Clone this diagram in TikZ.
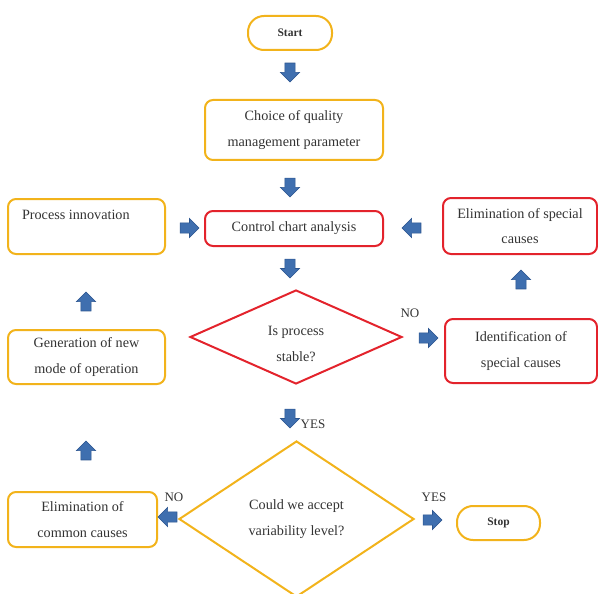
\documentclass[tikz,border=0pt]{standalone}
\usepackage{fontspec}
\setmainfont{Liberation Serif}
\usetikzlibrary{shapes.geometric,shapes.arrows}
\definecolor{yel}{HTML}{F2B31B}
\definecolor{rd}{HTML}{E3232C}
\definecolor{blu}{HTML}{3F6FAF}
\definecolor{bludark}{HTML}{2C558F}
\definecolor{txt}{HTML}{333333}
\tikzset{
  base/.style={line width=2pt, inner sep=0pt, align=center, text=txt,
    font=\fontsize{14.2}{25.5}\selectfont},
  ybox/.style={base, draw=yel, rounded corners=8pt},
  rbox/.style={base, draw=rd, rounded corners=8pt},
  pill/.style={base, draw=yel, rounded corners=16pt, font=\fontsize{11.5}{12}\selectfont\bfseries},
  ydia/.style={base, draw=yel, diamond, aspect=1},
  rdia/.style={base, draw=rd, diamond, aspect=1},
  barrow/.style={single arrow, fill=blu, draw=bludark, line width=0.6pt,
    inner sep=4.8pt, minimum height=19pt, single arrow head extend=4.5pt,
    single arrow head indent=0pt},
  lab/.style={text=txt, font=\fontsize{13}{14}\selectfont, inner sep=0pt}
}
\begin{document}
\begin{tikzpicture}[x=1pt,y=-1pt]
\useasboundingbox (0,0) rectangle (598,594);
\node[pill, minimum width=84pt, minimum height=34pt] (start) at (290,33) {Start};
\node[ybox, minimum width=178pt, minimum height=60pt] (choice) at (294,130) {\raisebox{-2pt}{Choice of quality}\\\raisebox{-2pt}{management parameter}};
\node[rbox, minimum width=178pt, minimum height=35pt] (ctrl) at (294,228.5) {Control chart analysis};
\node[ybox, minimum width=157pt, minimum height=55pt] (pinn) at (86.5,226.5) {};
\node[base, anchor=north west] (pinntxt) at ([shift={(14,11)}]pinn.north west) {Process innovation};
\node[rbox, minimum width=154pt, minimum height=56pt] (esc) at (520,226) {Elimination of special\\causes};
\node[rdia, minimum width=212pt, minimum height=94pt] (d1) at (296,337) {};
\node[base] (d1txt) at (296,344) {Is process\\stable?};
\node[rbox, minimum width=152pt, minimum height=64pt] (isc) at (521,351) {Identification of\\special causes};
\node[ybox, minimum width=157pt, minimum height=54pt] (gen) at (86.5,357) {Generation of new\\mode of operation};
\node[ydia, minimum width=235pt, minimum height=156pt] (d2) at (296.5,519) {};
\node[base] (d2txt) at (296.5,519) {Could we accept\\variability level?};
\node[ybox, minimum width=149pt, minimum height=55pt] (ecc) at (82.5,519.5) {Elimination of\\common causes};
\node[pill, minimum width=83pt, minimum height=34pt] (stop) at (498.5,523) {Stop};
% block arrows
\node[barrow, rotate=-90] (a1) at (290,70) {};
\node[barrow, rotate=-90] (a2) at (290,185) {};
\node[barrow] (a3) at (187,228) {};
\node[barrow, rotate=180] (a4) at (414,228) {};
\node[barrow, rotate=-90] (a5) at (290,266) {};
\node[barrow] (a6) at (426,338) {};
\node[barrow, rotate=90] (a7) at (521,282) {};
\node[barrow, rotate=90] (a8) at (86,304) {};
\node[barrow, rotate=-90] (a9) at (290,416) {};
\node[barrow, rotate=90] (a10) at (86,453) {};
\node[barrow, rotate=180] (a11) at (170,517) {};
\node[barrow] (a12) at (430,520) {};
% labels
\node[lab] (no1) at (410,313) {NO};
\node[lab] (yes1) at (313,424) {YES};
\node[lab] (no2) at (174,497) {NO};
\node[lab] (yes2) at (434,497) {YES};
\end{tikzpicture}
\end{document}
